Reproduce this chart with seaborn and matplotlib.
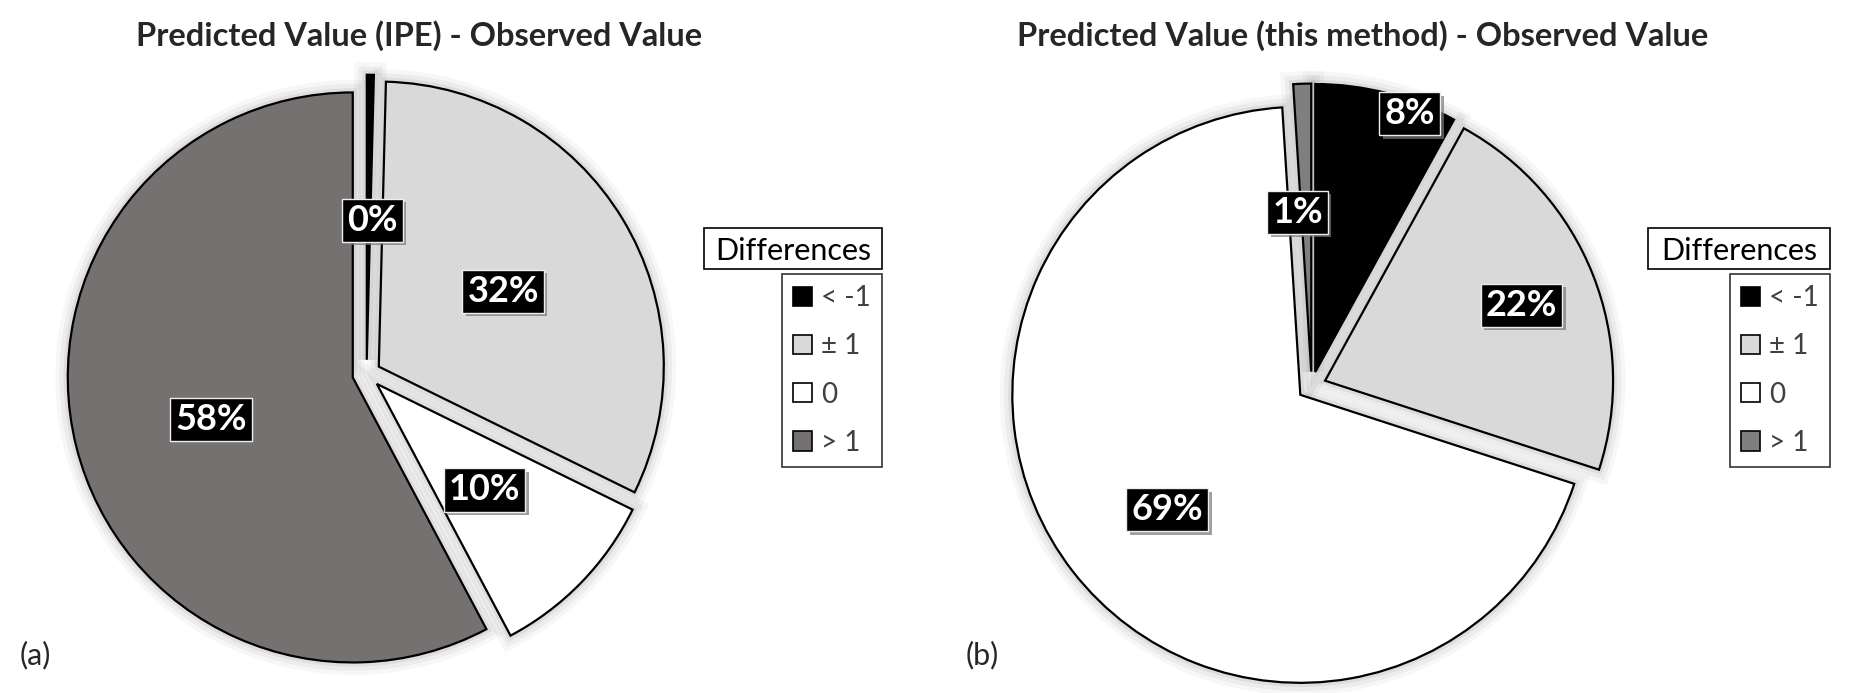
import matplotlib
matplotlib.use("Agg")
import matplotlib.pyplot as plt
import matplotlib.patheffects as pe
from matplotlib.patches import Patch, Rectangle, Wedge
import numpy as np
import seaborn as sns

# data
categories = ["< -1", "\u00b1 1", "0", "> 1"]
ipe_values = [0.4, 32, 10, 58]
method_values = [8, 22, 69, 1]
titles = ["Predicted Value (IPE) - Observed Value",
          "Predicted Value (this method) - Observed Value"]
panel_tags = ["(a)", "(b)"]
legend_title = "Differences"

sns.set_style("white")
plt.rcParams["font.family"] = ["Lato", "DejaVu Sans"]

W, H = 1851, 693
fig = plt.figure(figsize=(W / 100, H / 100), dpi=100)

colors_a = ["#000000", "#d9d9d9", "#ffffff", "#767171"]
colors_b = ["#000000", "#d9d9d9", "#ffffff", "#7f7f7f"]

glow = [pe.Stroke(linewidth=18, foreground="black", alpha=0.03),
        pe.Stroke(linewidth=12, foreground="black", alpha=0.045),
        pe.Stroke(linewidth=6, foreground="black", alpha=0.06)]


def px_axes(cx, cy, r, span=1.25):
    # square axes centred on (cx, cy) in pixels from top-left, r px per data unit
    half = r * span
    ax = fig.add_axes([(cx - half) / W, (H - cy - half) / H, 2 * half / W, 2 * half / H])
    ax.axis("off")
    return ax


def draw_pie(ax, values, colors, label_dist, label_turn):
    wedges, _, autotexts = ax.pie(
        values, colors=colors, startangle=90, counterclock=False,
        explode=[0.05] * len(values),
        wedgeprops=dict(edgecolor="black", linewidth=1.6, zorder=2),
        autopct=lambda p: f"{p:.0f}%", pctdistance=0.6,
        textprops=dict(color="white", fontsize=26, fontweight="bold", zorder=4))
    # soft shadow behind each slice
    for w in wedges:
        sh = Wedge(w.center, w.r, w.theta1, w.theta2, facecolor="white",
                   edgecolor="none", zorder=1)
        sh.set_path_effects(glow)
        ax.add_patch(sh)
    # place labels like Excel's "best fit": per-label distance and small clockwise turn
    for w, t, d, turn in zip(wedges, autotexts, label_dist, label_turn):
        ang = np.deg2rad((w.theta1 + w.theta2) / 2 - turn)
        cx, cy = w.center
        t.set_position((cx + d * w.r * np.cos(ang), cy + d * w.r * np.sin(ang)))
        t.set_bbox(dict(boxstyle="square,pad=0.14", facecolor="black",
                        edgecolor="#eeeeee", linewidth=1))
        t.get_bbox_patch().set_path_effects([
            pe.SimplePatchShadow(offset=(2.5, -2.5), shadow_rgbFace="#777777", alpha=0.7),
            pe.Normal()])
    ax.set_xlim(-1.25, 1.25)
    ax.set_ylim(-1.25, 1.25)
    ax.set_aspect("equal")


def draw_legend(colors, x_right, y_top, title_left):
    handles = [Patch(facecolor=c, edgecolor="black", linewidth=1.2) for c in colors]
    leg = fig.legend(handles, categories, loc="upper right",
                     bbox_to_anchor=(x_right / W, 1 - y_top / H),
                     bbox_transform=fig.transFigure, borderaxespad=0,
                     fontsize=20, frameon=True, fancybox=False, edgecolor="black",
                     handlelength=0.68, handleheight=0.68, handletextpad=0.32,
                     labelspacing=0.8, borderpad=0.4, labelcolor="#404040")
    leg.get_frame().set_linewidth(1.2)
    # separate box for the legend title
    tb_top, tb_h = y_top - 46, 41
    fig.patches.append(Rectangle((title_left / W, 1 - (tb_top + tb_h) / H),
                                 (x_right - title_left) / W, tb_h / H,
                                 transform=fig.transFigure, facecolor="white",
                                 edgecolor="black", linewidth=1.2))
    fig.text((title_left + x_right) / 2 / W, 1 - (tb_top + tb_h / 2 + 2) / H,
             legend_title, ha="center", va="center", fontsize=22, color="black")


ax_a = px_axes(366.6, 374, 285)
draw_pie(ax_a, ipe_values, colors_a, [0.49, 0.51, 0.53, 0.52], [1.7, 0, 0.5, -2.6])
ax_b = px_axes(1311.7, 386, 288)
draw_pie(ax_b, method_values, colors_b, [0.955, 0.73, 0.61, 0.556], [5.7, 0.6, -3, -3.1])

draw_legend(colors_a, 882, 274, 704)
draw_legend(colors_b, 1830, 274, 1648)

fig.text(419 / W, 1 - 36 / H, titles[0], ha="center", va="center",
         fontsize=23.5, fontweight="bold")
fig.text(1363 / W, 1 - 36 / H, titles[1], ha="center", va="center",
         fontsize=23.5, fontweight="bold")
fig.text(20 / W, 1 - 655 / H, panel_tags[0], ha="left", va="center", fontsize=22)
fig.text(966 / W, 1 - 655 / H, panel_tags[1], ha="left", va="center", fontsize=22)

fig.savefig("out.png", dpi=100, facecolor="white")
